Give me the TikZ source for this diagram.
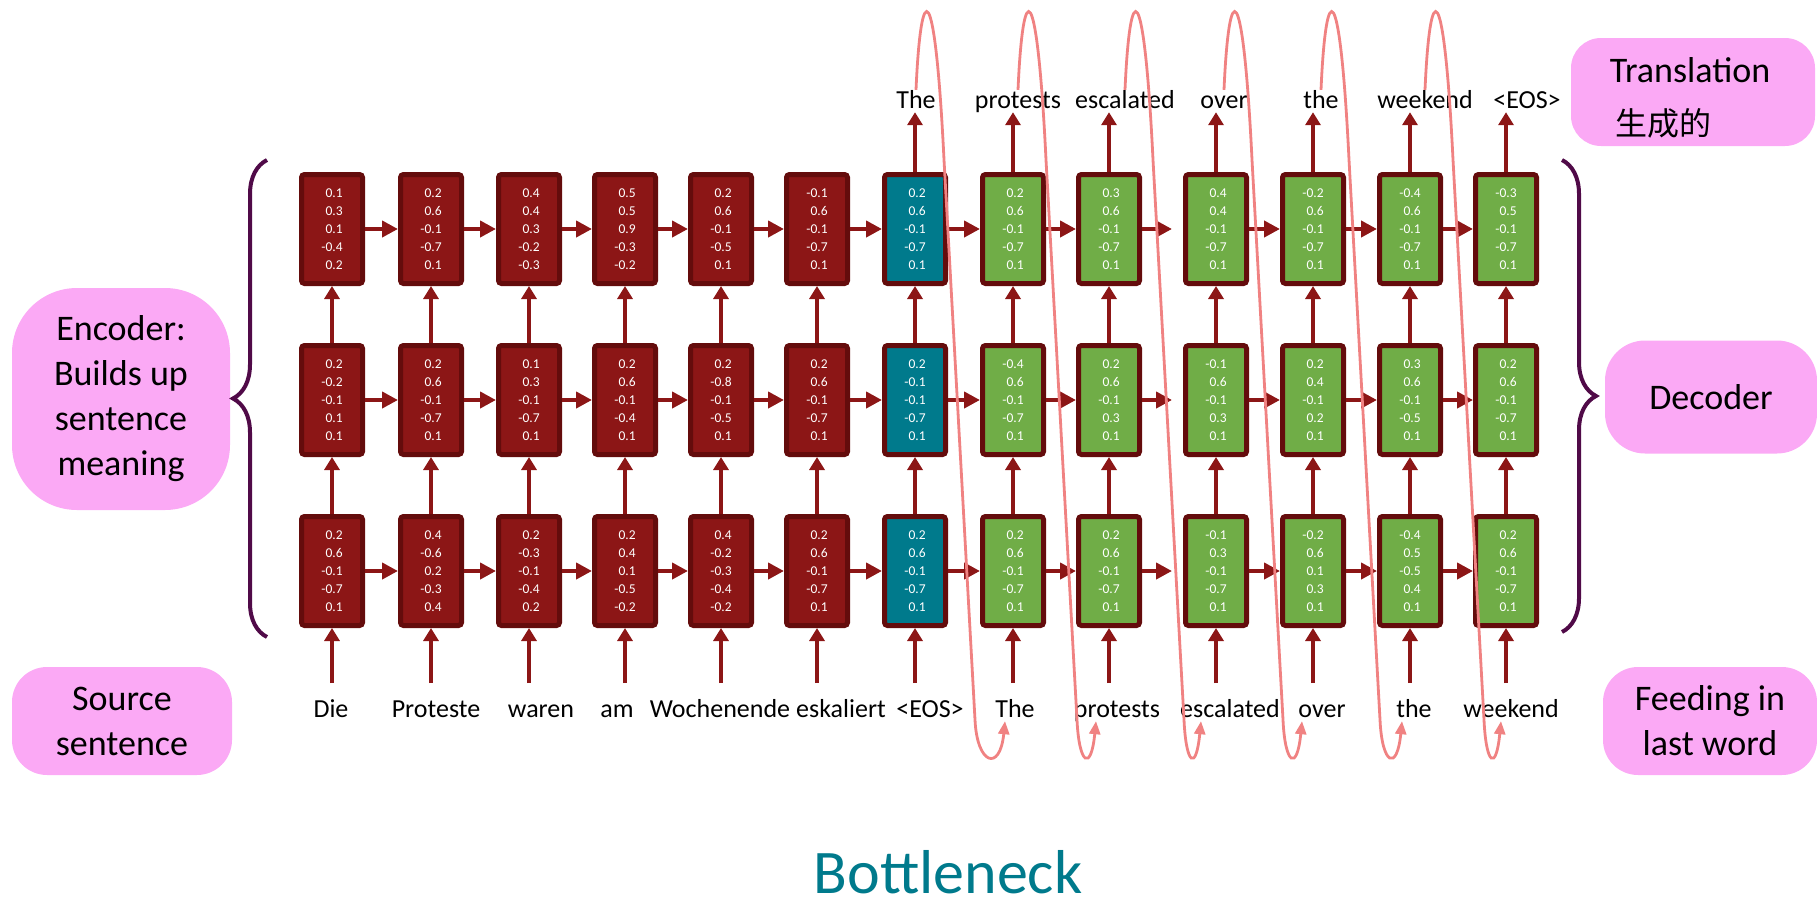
\documentclass[tikz,border=0pt]{standalone}
\usepackage{fontspec}
\setmainfont{Carlito}
\newfontfamily\cjk{Noto Sans CJK SC}
\usepackage{tikz}
\usetikzlibrary{arrows.meta,decorations.pathreplacing}
\definecolor{CellRed}{HTML}{8C1616}
\definecolor{CellEdge}{HTML}{640C0C}
\definecolor{CellGreen}{HTML}{70AD47}
\definecolor{CellTeal}{HTML}{007A8C}
\definecolor{WireRed}{HTML}{8C1616}
\definecolor{LoopPink}{HTML}{F08282}
\definecolor{NotePink}{HTML}{FBA9F5}
\definecolor{BraceViolet}{HTML}{500A48}
\newcommand\cellfont{\fontsize{13.5}{18}\selectfont}
\newcommand\wordfont{\fontsize{26}{30}\selectfont}
\newcommand\notefont{\fontsize{36}{45}\selectfont}
\tikzset{
  cell/.style={draw=CellEdge, line width=5pt, rounded corners=3pt, text=white,
    align=right, font=\cellfont, inner sep=0pt, minimum width=61pt, minimum height=109pt},
  wire/.style={draw=WireRed},
  hwire/.style={wire, line width=4.5pt, -{Triangle[length=16pt,width=16pt]}},
  vwire/.style={wire, line width=3.5pt, -{Triangle[length=13pt,width=15pt]}},
  loopwire/.style={draw=LoopPink, line width=2.8pt, -{Triangle[length=13pt,width=11pt]}},
  note/.style={fill=NotePink, align=center, font=\notefont, inner sep=0pt},
  word/.style={font=\wordfont, anchor=base, inner sep=0pt, text height=18pt, text depth=4pt},
  bracket/.style={draw=BraceViolet, line width=4pt, decorate, decoration={brace, amplitude=34pt}}
}

\begin{document}
\begin{tikzpicture}[x=1pt, y=-1pt]
  \useasboundingbox (0,0) rectangle (1817,910);
  % side notes
  \node[note, minimum width=218pt, minimum height=222pt, rounded corners=65pt] (encoder) at (121,399)
    {Encoder:\\Builds up\\sentence\\meaning};
  \node[note, minimum width=220pt, minimum height=108pt, rounded corners=35pt] (source) at (122,721)
    {Source\\sentence};
  \node[note, minimum width=244pt, minimum height=108pt, rounded corners=30pt] (translation) at (1693,92) {};
  \node[font=\notefont, anchor=base] (translationtext) at (1690,82) {Translation};
  \node[fill=NotePink, font={\cjk\fontsize{32}{36}\selectfont}, inner sep=0pt,
    minimum width=130pt, minimum height=44pt, anchor=south west] (shengcheng) at (1598,146) {生成的};
  \node[note, minimum width=212pt, minimum height=113pt, rounded corners=40pt] (decoder) at (1711,397) {Decoder};
  \node[note, minimum width=214pt, minimum height=108pt, rounded corners=35pt] (feeding) at (1710,721)
    {Feeding in\\last word};
  \draw[bracket] (267,637) -- (267,160);
  \draw[bracket] (1562,160) -- (1562,632);

  % hidden states, bottom/middle/top layer
  \foreach \c/\x/\tone/\vA/\vB/\vC in {
    1/332/CellRed/{0.2\\0.6\\-0.1\\-0.7\\0.1}/{0.2\\-0.2\\-0.1\\0.1\\0.1}/{0.1\\0.3\\0.1\\-0.4\\0.2},
    2/431/CellRed/{0.4\\-0.6\\0.2\\-0.3\\0.4}/{0.2\\0.6\\-0.1\\-0.7\\0.1}/{0.2\\0.6\\-0.1\\-0.7\\0.1},
    3/529/CellRed/{0.2\\-0.3\\-0.1\\-0.4\\0.2}/{0.1\\0.3\\-0.1\\-0.7\\0.1}/{0.4\\0.4\\0.3\\-0.2\\-0.3},
    4/625/CellRed/{0.2\\0.4\\0.1\\-0.5\\-0.2}/{0.2\\0.6\\-0.1\\-0.4\\0.1}/{0.5\\0.5\\0.9\\-0.3\\-0.2},
    5/721/CellRed/{0.4\\-0.2\\-0.3\\-0.4\\-0.2}/{0.2\\-0.8\\-0.1\\-0.5\\0.1}/{0.2\\0.6\\-0.1\\-0.5\\0.1},
    6/817/CellRed/{0.2\\0.6\\-0.1\\-0.7\\0.1}/{0.2\\0.6\\-0.1\\-0.7\\0.1}/{-0.1\\0.6\\-0.1\\-0.7\\0.1},
    7/915/CellTeal/{0.2\\0.6\\-0.1\\-0.7\\0.1}/{0.2\\-0.1\\-0.1\\-0.7\\0.1}/{0.2\\0.6\\-0.1\\-0.7\\0.1},
    8/1013/CellGreen/{0.2\\0.6\\-0.1\\-0.7\\0.1}/{-0.4\\0.6\\-0.1\\-0.7\\0.1}/{0.2\\0.6\\-0.1\\-0.7\\0.1},
    9/1109/CellGreen/{0.2\\0.6\\-0.1\\-0.7\\0.1}/{0.2\\0.6\\-0.1\\0.3\\0.1}/{0.3\\0.6\\-0.1\\-0.7\\0.1},
    10/1216/CellGreen/{-0.1\\0.3\\-0.1\\-0.7\\0.1}/{-0.1\\0.6\\-0.1\\0.3\\0.1}/{0.4\\0.4\\-0.1\\-0.7\\0.1},
    11/1313/CellGreen/{-0.2\\0.6\\0.1\\0.3\\0.1}/{0.2\\0.4\\-0.1\\0.2\\0.1}/{-0.2\\0.6\\-0.1\\-0.7\\0.1},
    12/1410/CellGreen/{-0.4\\0.5\\-0.5\\0.4\\0.1}/{0.3\\0.6\\-0.1\\-0.5\\0.1}/{-0.4\\0.6\\-0.1\\-0.7\\0.1},
    13/1506/CellGreen/{0.2\\0.6\\-0.1\\-0.7\\0.1}/{0.2\\0.6\\-0.1\\-0.7\\0.1}/{-0.3\\0.5\\-0.1\\-0.7\\0.1}}{
    \node[cell, fill=\tone] (h-\c-1) at (\x,571) {\vA};
    \node[cell, fill=\tone] (h-\c-2) at (\x,400) {\vB};
    \node[cell, fill=\tone] (h-\c-3) at (\x,229) {\vC};
    \coordinate (feed-\c) at (\x,683);
    \draw[vwire] (feed-\c) -- (h-\c-1);
    \draw[vwire] (h-\c-1) -- (h-\c-2);
    \draw[vwire] (h-\c-2) -- (h-\c-3);
  }
  \foreach \r in {1,2,3}
    \foreach \c in {1,...,12}{
      \pgfmathtruncatemacro\nxt{\c+1}
      \pgfmathtruncatemacro\gap{\c==9 ? 11 : 0}
      \draw[hwire, shorten >=\gap pt] (h-\c-\r) -- (h-\nxt-\r);
    }

  % words in and out
  \foreach \c/\x/\w in {1/331/Die, 2/436/Proteste, 3/541/waren, 4/617/am, 5/720/Wochenende,
    6/841/eskaliert, 7/930/<EOS>, 8/1015/The, 9/1117/protests, 10/1230/escalated,
    11/1322/over, 12/1414/the, 13/1511/weekend}
    \node[word] (src-\c) at (\x,717) {\w};
  \foreach \c/\x/\w in {7/916/The, 8/1018/protests, 9/1125/escalated, 10/1224/over,
    11/1321/the, 12/1425/weekend, 13/1527/<EOS>}{
    \node[word] (tgt-\c) at (\x,108) {\w};
    \draw[vwire] (h-\c-3) -- (h-\c-3 |- tgt-\c.south);
  }

  % each output word is fed back in
  \foreach \c/\nxt/\sh in {7/8/-10, 8/9/-21, 9/10/-29, 10/11/-20, 11/12/-12, 12/13/-10}
    \draw[loopwire] (tgt-\c.north) .. controls +(5,-114) and +(-9,-184) .. ++(28,70)
      -- ++(31,560) .. controls +(2,45) and +(-5,51) .. ([xshift=\sh pt]src-\nxt.south);

  \node[font=\fontsize{62}{70}\selectfont, text=CellTeal, anchor=base, inner sep=0pt] (bottleneck) at (948,893) {Bottleneck};
\end{tikzpicture}
\end{document}
